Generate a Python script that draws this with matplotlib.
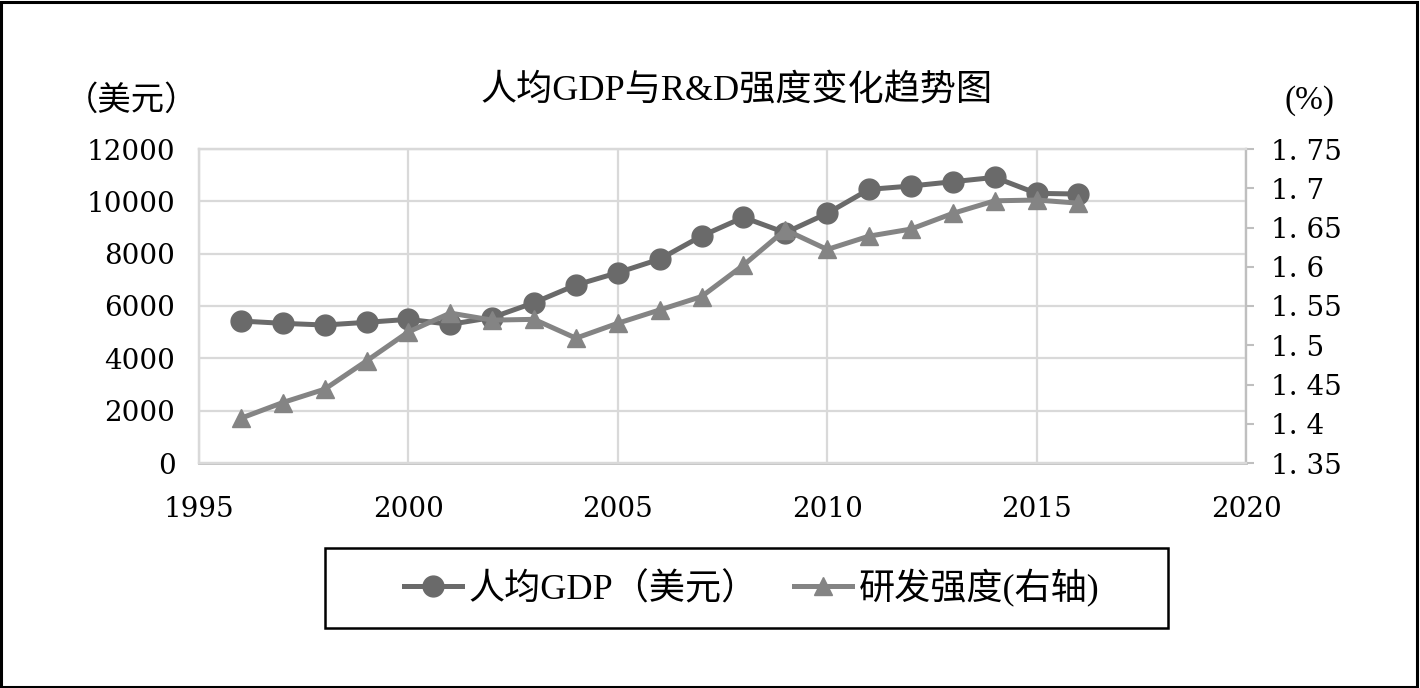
import matplotlib.pyplot as plt
from matplotlib.patches import Rectangle
from matplotlib.lines import Line2D

years = list(range(1996, 2017))
gdp = [5426, 5338, 5273, 5376, 5490, 5300, 5560, 6126, 6802, 7273, 7790,
       8674, 9388, 8801, 9540, 10457, 10585, 10750, 10916, 10305, 10279]
rd = [1.407, 1.427, 1.444, 1.480, 1.517, 1.541, 1.532, 1.533, 1.509, 1.528, 1.545,
      1.562, 1.602, 1.647, 1.622, 1.639, 1.648, 1.668, 1.684, 1.685, 1.681]

x_ticks = [1995, 2000, 2005, 2010, 2015, 2020]
left_ticks = [0, 2000, 4000, 6000, 8000, 10000, 12000]
right_ticks = [1.35, 1.4, 1.45, 1.5, 1.55, 1.6, 1.65, 1.7, 1.75]
right_labels = ["1. 35", "1. 4", "1. 45", "1. 5", "1. 55", "1. 6", "1. 65", "1. 7", "1. 75"]

title = "人均GDP与R&D强度变化趋势图"
gdp_name = "人均GDP（美元）"
rd_name = "研发强度(右轴)"

cjk = ['Liberation Serif', 'Noto Sans CJK SC']
num_font = 'DejaVu Serif'

c_gdp = '#6a6a6a'
c_rd = '#848484'
grid_c = '#d9d9d9'
axis_c = '#bfbfbf'

fig = plt.figure(figsize=(14.2, 6.88), dpi=100)
ax = fig.add_axes([199/1420, 1 - 463/688, (1246 - 199)/1420, (463 - 149)/688])
ax2 = ax.twinx()

ax.plot(years, gdp, color=c_gdp, lw=3.6, marker='o', ms=15, zorder=3)
ax2.plot(years, rd, color=c_rd, lw=3.6, marker='^', ms=13.5, zorder=3)

ax.set_xlim(1995, 2020)
ax.set_ylim(0, 12000)
ax2.set_ylim(1.35, 1.75)
ax.set_xticks(x_ticks)
ax.set_yticks(left_ticks)
ax2.set_yticks(right_ticks)
ax2.set_yticklabels(right_labels)

ax.grid(True, color=grid_c, lw=1.6)
ax.set_axisbelow(True)

for a in (ax, ax2):
    for s in a.spines.values():
        s.set_color(grid_c)
        s.set_linewidth(1.6)
ax.spines['bottom'].set_color(axis_c)
ax.spines['bottom'].set_linewidth(2)
ax2.spines['right'].set_color(axis_c)
ax2.spines['right'].set_linewidth(1.6)

ax.tick_params(axis='x', length=0, pad=24, labelsize=20)
ax.tick_params(axis='y', length=0, pad=17, labelsize=20)
ax2.tick_params(axis='y', length=6, width=1.5, color=axis_c, pad=12, labelsize=20)
for lab in ax.get_xticklabels() + ax.get_yticklabels() + ax2.get_yticklabels():
    lab.set_fontfamily(num_font)

fig.text(737/1420, 1 - 91/688, title, family=cjk, fontsize=26, ha='center', va='center')
fig.text(132/1420, 1 - 101/688, "（美元）", family=cjk, fontsize=24, ha='center', va='center')
fig.text(1309/1420, 1 - 101/688, "(%)", family=cjk, fontsize=24, ha='center', va='center')

# legend box
fig.patches.append(Rectangle((325/1420, 1 - 628/688), (1168 - 325)/1420, 80/688,
                             transform=fig.transFigure, fill=False, edgecolor='black', lw=1.8))
handles = [Line2D([], [], color=c_gdp, lw=3.6, marker='o', ms=15),
           Line2D([], [], color=c_rd, lw=3.6, marker='^', ms=13.5)]
fig.legend(handles, [gdp_name, rd_name], loc='center', bbox_to_anchor=(752/1420, 1 - 588/688),
           ncol=2, frameon=False, prop={'family': cjk, 'size': 26},
           handlelength=1.6, handletextpad=0.2, columnspacing=1.0)

# outer border
fig.patches.append(Rectangle((0.001, 0.002), 0.997, 0.995, transform=fig.transFigure,
                             fill=False, edgecolor='black', lw=2.2))

fig.savefig('out.png', dpi=100)
